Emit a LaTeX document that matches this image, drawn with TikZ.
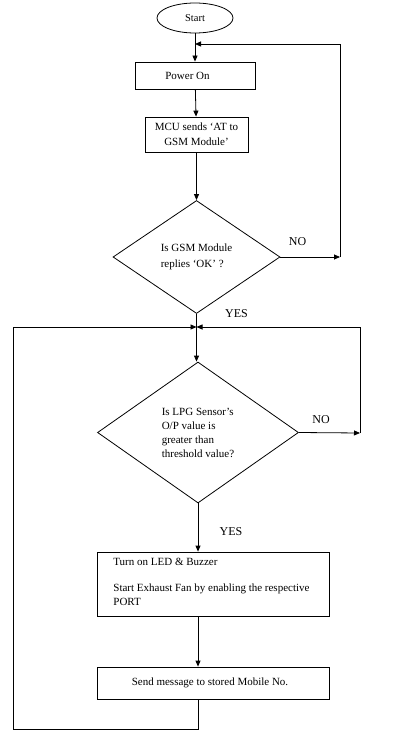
\documentclass[tikz,border=0pt]{standalone}
\usepackage{fontspec}
\setmainfont{Liberation Serif}
\usetikzlibrary{shapes.geometric,arrows.meta}
\begin{document}
\begin{tikzpicture}[x=1pt,y=-1pt, line width=0.8pt,
  >={Triangle[length=6pt,width=5pt]},
  txt/.style={font=\fontsize{11}{14}\selectfont},
  box/.style={draw, rectangle, inner sep=0pt, txt, align=center},
  dec/.style={draw, diamond, inner sep=0pt, txt, align=left},
  lbl/.style={font=\fontsize{12}{14}\selectfont, inner sep=0pt}]
\useasboundingbox (0,0) rectangle (410,735);
% nodes
\node[draw, ellipse, minimum width=76pt, minimum height=30pt, inner sep=0pt,
      font=\fontsize{10.5}{12}\selectfont] (start) at (195,18) {Start};
\node[box, minimum width=120pt, minimum height=27pt] (power) at (195,75.5) {Power On\hspace{15pt}};
\node[box, minimum width=103pt, minimum height=35pt, font=\fontsize{11}{15}\selectfont] (mcu) at (196.5,134.5) {MCU sends ‘AT to\\GSM Module’};
\node[dec, minimum width=167pt, minimum height=113pt] (gsm) at (196.5,257) {Is GSM Module\\[2pt]replies ‘OK’ ?};
\node[dec, minimum width=201pt, minimum height=141pt] (lpg) at (198,432.5) {Is LPG Sensor’s\\O/P value is\\greater than\\threshold value?};
\node[draw, rectangle, minimum width=232pt, minimum height=64pt, inner sep=0pt] (turn) at (213,584) {};
\node[txt, align=left, anchor=north west, inner sep=0pt] (turntxt) at (113,558)
  {Turn on LED \& Buzzer\\[12pt]Start Exhaust Fan by enabling the respective\\PORT};
\node[box, minimum width=232pt, minimum height=32pt] (send) at (213,683) {\hspace{-6pt}Send message to stored Mobile No.};
% labels
\node[lbl] (no1) at (297.5,242) {NO};
\node[lbl] (yes1) at (236.5,314) {YES};
\node[lbl] (no2) at (321,420) {NO};
\node[lbl] (yes2) at (231,532) {YES};
% coordinates
\coordinate (j1) at (195,44);
\coordinate (n1) at (340,257);
\coordinate (j2) at (196.5,327);
\coordinate (r2) at (360,433);
\coordinate (bl) at (13,729);
% connectors
\draw[->] (start) -- (power);
\draw[->] (power) -- (mcu);
\draw[->] (mcu) -- (gsm);
\draw[->] (gsm.east) -- (n1);
\draw[->] (n1) -- (n1 |- j1) -- (j1);
\draw[->] (gsm.south) -- (gsm.south |- lpg.north);
\draw[->] (lpg.east) -- (r2);
\draw[->] (r2) -- (r2 |- j2) -- (j2);
\draw[->] (lpg.south) -- (lpg.south |- turn.north);
\draw[->] (turn.south -| lpg.south) -- (send.north -| lpg.south);
\draw[->] (send.south -| lpg.south) -- (bl -| lpg.south) -- (bl) -- (bl |- j2) -- (j2);
\end{tikzpicture}
\end{document}
